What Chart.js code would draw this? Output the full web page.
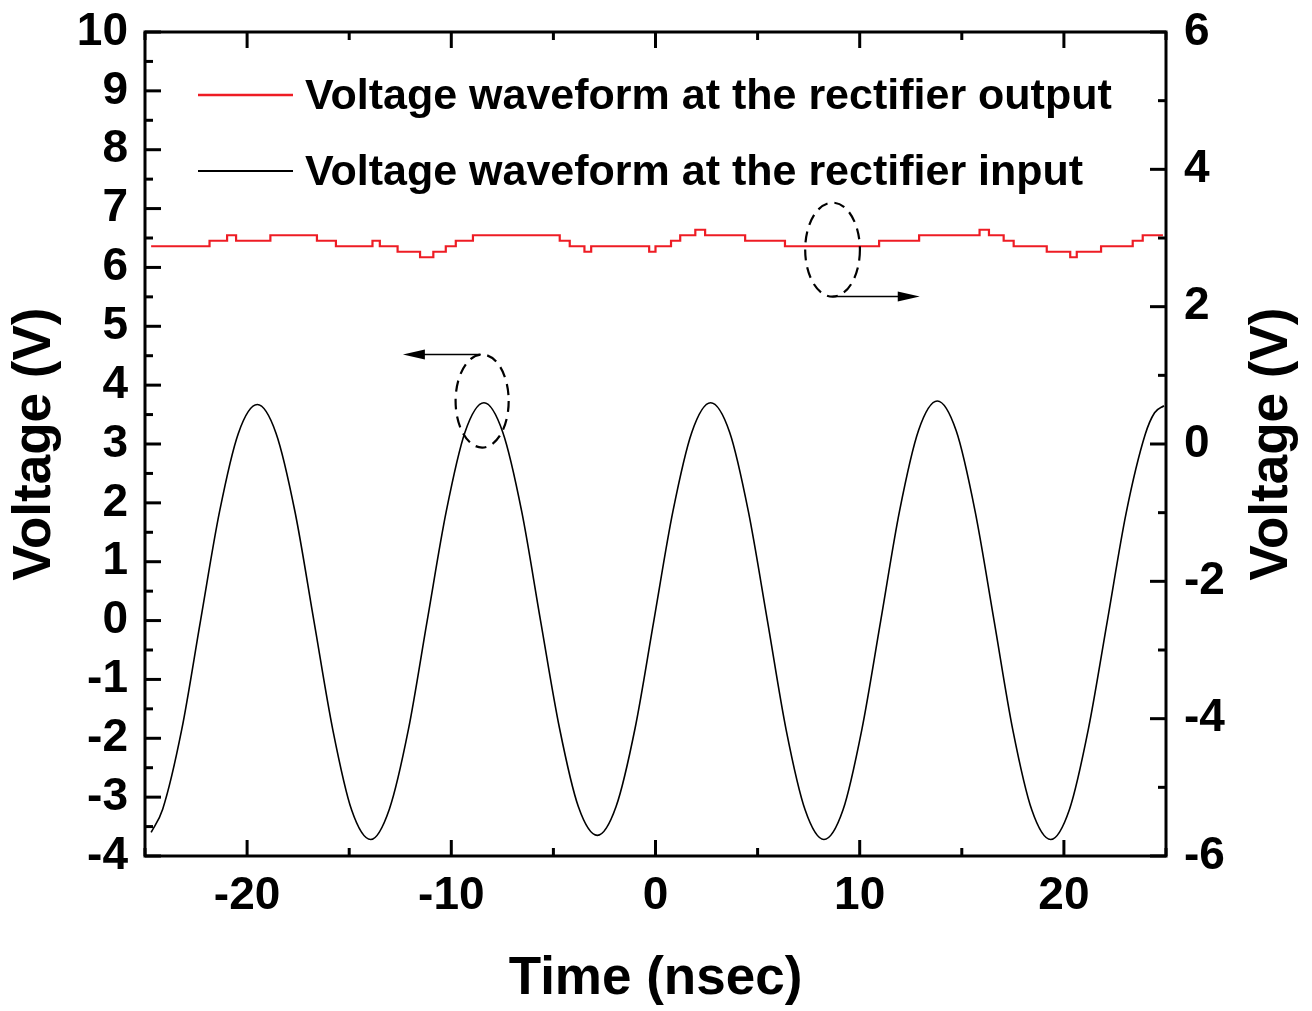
<!DOCTYPE html>
<html>
<head>
<meta charset="utf-8">
<title>Rectifier voltage waveforms</title>
<script src="https://cdn.jsdelivr.net/npm/chart.js@4.4.1/dist/chart.umd.min.js"></script>
<style>
  body { margin: 0; background: #fff; }
  #wrap { width: 1312px; height: 1011px; }
</style>
</head>
<body>
<div id="wrap"><canvas id="myChart" width="1312" height="1011"></canvas></div>
<script>
// axis ticks
var xTicks = [-20, -10, 0, 10, 20];
var xMinor = [-25, -15, -5, 5, 15, 25];
var yTicks = [-4, -3, -2, -1, 0, 1, 2, 3, 4, 5, 6, 7, 8, 9, 10];
var y2Ticks = [-6, -4, -2, 0, 2, 4, 6];
var y2Minor = [-5, -3, -1, 1, 3, 5];

// rectifier input (left axis)
var inTime = [-24.7, -24.13, -23.2, -22.28, -21.35, -20.43, -19.5, -18.58, -17.65, -16.73, -15.8, -14.88,
  -13.95, -13.03, -12.1, -11.18, -10.25, -9.33, -8.4, -7.48, -6.55, -5.63, -4.7, -3.78,
  -2.85, -1.93, -1.0, -0.08, 0.85, 1.78, 2.7, 3.63, 4.55, 5.48, 6.4, 7.33,
  8.25, 9.18, 10.1, 11.03, 11.95, 12.88, 13.8, 14.73, 15.65, 16.58, 17.5, 18.43,
  19.35, 20.28, 21.2, 22.13, 23.05, 23.98, 24.44, 24.9];
var inVolt = [-3.6, -3.2, -1.85, 0, 1.85, 3.18, 3.67, 3.18, 1.84, 0, -1.86, -3.22,
  -3.72, -3.2, -1.85, 0, 1.85, 3.2, 3.7, 3.2, 1.85, 0, -1.83, -3.16,
  -3.65, -3.16, -1.83, 0, 1.85, 3.2, 3.7, 3.2, 1.85, 0, -1.86, -3.22,
  -3.72, -3.22, -1.86, 0, 1.86, 3.23, 3.73, 3.22, 1.86, 0, -1.86, -3.22,
  -3.72, -3.2, -1.84, 0, 1.83, 3.16, 3.53, 3.65];

// rectifier output (right axis): time where the level changes, new level
var outTime = [-24.7, -21.84, -20.98, -20.54, -18.86, -16.58, -15.65, -13.86, -13.5, -12.63,
  -11.53, -10.88, -10.27, -9.78, -8.94, -4.69, -4.2, -3.48, -3.15, -0.31,
  0.0, 0.76, 1.21, 1.95, 2.43, 4.39, 6.34, 10.95, 12.91, 15.87,
  16.33, 17.05, 17.54, 19.16, 20.31, 20.63, 21.82, 23.37, 23.86, 24.85];
var outVolt = [2.88, 2.96, 3.04, 2.96, 3.04, 2.96, 2.88, 2.96, 2.88, 2.80,
  2.72, 2.80, 2.88, 2.96, 3.04, 2.96, 2.88, 2.80, 2.88, 2.80,
  2.88, 2.96, 3.04, 3.12, 3.04, 2.96, 2.88, 2.96, 3.04, 3.12,
  3.04, 2.96, 2.88, 2.80, 2.72, 2.80, 2.88, 2.96, 3.04, 3.04];

var seriesNames = ["Voltage waveform at the rectifier output", "Voltage waveform at the rectifier input"];

// dashed ellipses + arrows (data units)
var marks = [
  { axis: "y", cx: -8.49, cy: 3.73, rx: 1.3, ry: 0.79, ax1: -8.56, ax2: -12.37, ay: 4.52 },
  { axis: "y2", cx: 8.67, cy: 2.83, rx: 1.34, ry: 0.685, ax1: 8.67, ax2: 12.94, ay: 2.147 }
];

var FONT = "'Liberation Sans', Arial, sans-serif";
var RED = "#ee1c24";

function pts(xs, ys) {
  return xs.map(function(v, i) { return { x: v, y: ys[i] }; });
}

var decor = {
  id: "decor",
  afterDatasetsDraw: function(chart) {
    var ctx = chart.ctx;
    var a = chart.chartArea;
    var sx = chart.scales.x, sy = chart.scales.y, sy2 = chart.scales.y2;
    ctx.save();
    ctx.strokeStyle = "#000";
    ctx.lineWidth = 3;
    ctx.lineCap = "butt";
    function seg(x1, y1, x2, y2) {
      ctx.beginPath(); ctx.moveTo(x1, y1); ctx.lineTo(x2, y2); ctx.stroke();
    }
    // inward ticks
    xTicks.forEach(function(v) {
      var p = sx.getPixelForValue(v);
      seg(p, a.bottom, p, a.bottom - 16); seg(p, a.top, p, a.top + 16);
    });
    xMinor.forEach(function(v) {
      var p = sx.getPixelForValue(v);
      seg(p, a.bottom, p, a.bottom - 8); seg(p, a.top, p, a.top + 8);
    });
    for (var v = -4; v <= 10; v += 0.5) {
      var p = sy.getPixelForValue(v);
      seg(a.left, p, a.left + (v % 1 === 0 ? 16 : 8), p);
    }
    y2Ticks.forEach(function(v) {
      var p = sy2.getPixelForValue(v);
      seg(a.right, p, a.right - 16, p);
    });
    y2Minor.forEach(function(v) {
      var p = sy2.getPixelForValue(v);
      seg(a.right, p, a.right - 8, p);
    });
    // frame
    ctx.strokeRect(a.left, a.top, a.right - a.left, a.bottom - a.top);

    // annotations
    marks.forEach(function(m) {
      var ys = chart.scales[m.axis];
      var cx = sx.getPixelForValue(m.cx), cy = ys.getPixelForValue(m.cy);
      var rx = Math.abs(sx.getPixelForValue(m.cx + m.rx) - cx);
      var ry = Math.abs(ys.getPixelForValue(m.cy + m.ry) - cy);
      ctx.lineWidth = 2.2;
      ctx.setLineDash([11, 7]);
      ctx.beginPath();
      ctx.ellipse(cx, cy, rx, ry, 0, 0, Math.PI * 2);
      ctx.stroke();
      ctx.setLineDash([]);
      var x1 = sx.getPixelForValue(m.ax1), x2 = sx.getPixelForValue(m.ax2), ay = ys.getPixelForValue(m.ay);
      var dir = x2 > x1 ? 1 : -1;
      ctx.lineWidth = 1.5;
      seg(x1, ay, x2 - dir * 18, ay);
      ctx.fillStyle = "#000";
      ctx.beginPath();
      ctx.moveTo(x2, ay);
      ctx.lineTo(x2 - dir * 22, ay - 5);
      ctx.lineTo(x2 - dir * 22, ay + 5);
      ctx.closePath();
      ctx.fill();
    });

    // legend
    ctx.font = "bold 43px " + FONT;
    ctx.textBaseline = "middle";
    ctx.textAlign = "left";
    ctx.fillStyle = "#000";
    ctx.lineWidth = 2.5;
    ctx.strokeStyle = RED;
    seg(198, 95, 293, 95);
    ctx.fillText(seriesNames[0], 305, 97);
    ctx.lineWidth = 2;
    ctx.strokeStyle = "#000";
    seg(198, 171, 293, 171);
    ctx.fillText(seriesNames[1], 305, 173);

    // right axis title, reads bottom to top like the left one
    ctx.font = "bold 53px " + FONT;
    ctx.textAlign = "center";
    ctx.translate(1272, (a.top + a.bottom) / 2);
    ctx.rotate(-Math.PI / 2);
    ctx.fillText("Voltage (V)", 0, 0);
    ctx.restore();
  }
};

var tickFont = { family: FONT, size: 46, weight: "bold" };
var titleFont = { family: FONT, size: 53, weight: "bold" };

function fixVert(w) {
  return function(s) { s.width = w; s.paddingTop = 0; s.paddingBottom = 0; };
}

var ctx = document.getElementById("myChart").getContext("2d");
var chart = new Chart(ctx, {
  type: "line",
  data: {
    datasets: [
      {
        label: seriesNames[0],
        data: pts(outTime, outVolt),
        yAxisID: "y2",
        borderColor: RED,
        borderWidth: 2.2,
        stepped: "before",
        pointRadius: 0,
        fill: false
      },
      {
        label: seriesNames[1],
        data: pts(inTime, inVolt),
        yAxisID: "y",
        borderColor: "#000",
        borderWidth: 1.6,
        cubicInterpolationMode: "monotone",
        pointRadius: 0,
        fill: false
      }
    ]
  },
  options: {
    responsive: false,
    animation: false,
    devicePixelRatio: 1,
    layout: { padding: { left: 0, right: 0, top: 32, bottom: 0 } },
    plugins: { legend: { display: false }, tooltip: { enabled: false } },
    scales: {
      x: {
        type: "linear",
        min: -25,
        max: 25,
        afterBuildTicks: function(s) { s.ticks = xTicks.map(function(v) { return { value: v }; }); },
        afterFit: function(s) { s.height = 155; s.paddingLeft = 0; s.paddingRight = 0; },
        grid: { display: false, drawTicks: false },
        border: { display: false },
        ticks: { color: "#000", font: tickFont, padding: 13, maxRotation: 0, autoSkip: false },
        title: { display: true, text: "Time (nsec)", color: "#000", font: titleFont, padding: { top: 0, bottom: 0 } }
      },
      y: {
        type: "linear",
        position: "left",
        min: -4,
        max: 10,
        afterBuildTicks: function(s) { s.ticks = yTicks.map(function(v) { return { value: v }; }); },
        afterFit: fixVert(145),
        grid: { display: false, drawTicks: false },
        border: { display: false },
        ticks: { color: "#000", font: tickFont, padding: 17, autoSkip: false },
        title: { display: true, text: "Voltage (V)", color: "#000", font: titleFont, padding: { top: 4, bottom: 0 } }
      },
      y2: {
        type: "linear",
        position: "right",
        min: -6,
        max: 6,
        afterBuildTicks: function(s) { s.ticks = y2Ticks.map(function(v) { return { value: v }; }); },
        afterFit: fixVert(146),
        grid: { display: false, drawTicks: false },
        border: { display: false },
        ticks: { color: "#000", font: tickFont, padding: 18, autoSkip: false },
        title: { display: false }
      }
    }
  },
  plugins: [decor]
});
</script>
</body>
</html>
